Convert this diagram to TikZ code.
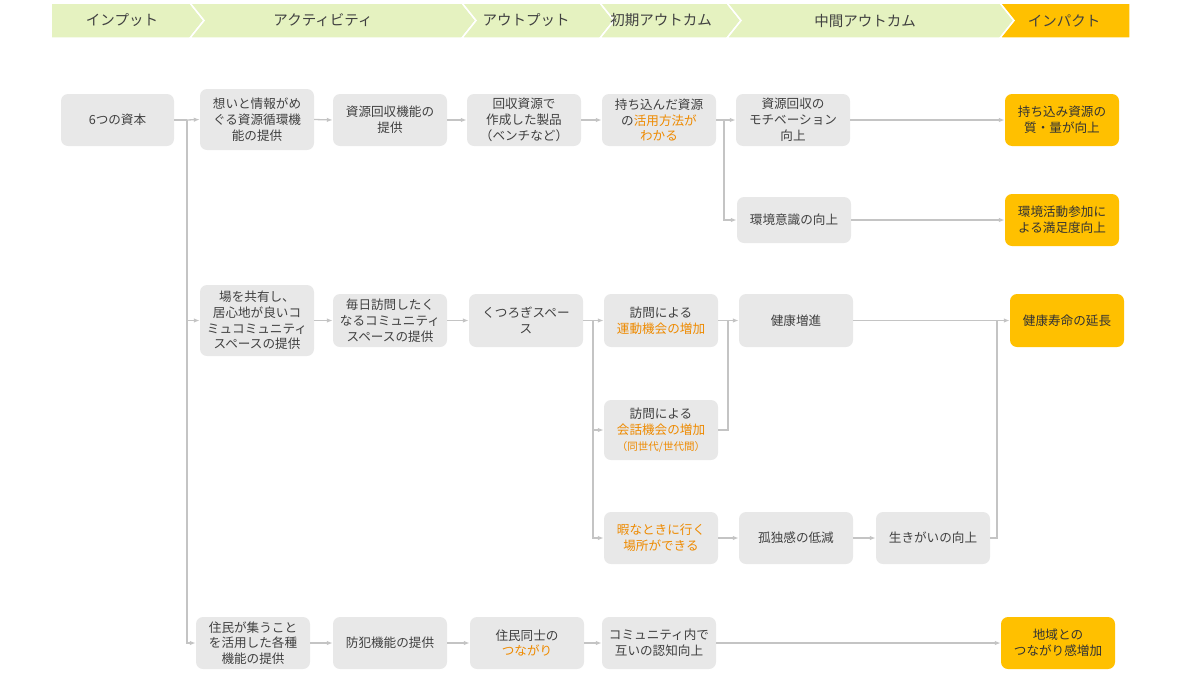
\documentclass[tikz,border=0pt]{standalone}
\usepackage{fontspec}
\setmainfont{Noto Sans CJK JP}
\usetikzlibrary{arrows.meta}
\definecolor{hdrgreen}{HTML}{E5F2C0}
\definecolor{impact}{HTML}{FFC000}
\definecolor{boxgray}{HTML}{E8E8E8}
\definecolor{txt}{HTML}{404040}
\definecolor{orn}{HTML}{EE8A00}
\definecolor{conn}{HTML}{C4C4C4}
\newcommand{\og}[1]{\textcolor{orn}{#1}}
\begin{document}
\begin{tikzpicture}[x=1pt,y=-1pt,
  box/.style={rounded corners=7pt, fill=boxgray, text=txt, align=center, minimum width=114pt, minimum height=52pt, inner sep=1pt, font=\fontsize{12.6}{15.8}\selectfont},
  imp/.style={box, fill=impact, text=black!80},
  hdr/.style={font=\fontsize{14.5}{17}\selectfont, text=txt},
  hseg/.style={fill=hdrgreen, draw=white, line width=1.5pt},
  arr/.style={draw=conn, line width=1.3pt, -{Latex[length=6pt,width=4.5pt]}},
  ln/.style={draw=conn, line width=1.3pt}]
\useasboundingbox (0,0) rectangle (1200,675);
% header
\path[hseg] (51,3) -- (190,3) -- (204,20.5) -- (190,38) -- (51,38) -- cycle;
\path[hseg] (190,3) -- (462,3) -- (476,20.5) -- (462,38) -- (190,38) -- (204,20.5) -- cycle;
\path[hseg] (462,3) -- (600,3) -- (614,20.5) -- (600,38) -- (462,38) -- (476,20.5) -- cycle;
\path[hseg] (600,3) -- (727,3) -- (741,20.5) -- (727,38) -- (600,38) -- (614,20.5) -- cycle;
\path[hseg] (727,3) -- (1000,3) -- (1014,20.5) -- (1000,38) -- (727,38) -- (741,20.5) -- cycle;
\path[hseg, fill=impact] (1000,3) -- (1130,3) -- (1130,38) -- (1000,38) -- (1014,20.5) -- cycle;
\node[hdr] (h1) at (122,20.5) {インプット};
\node[hdr] (h2) at (323,20.5) {アクティビティ};
\node[hdr] (h3) at (526,20.5) {アウトプット};
\node[hdr] (h4) at (661,20.5) {初期アウトカム};
\node[hdr] (h5) at (865,20.5) {中間アウトカム};
\node[hdr] (h6) at (1064,20.5) {インパクト};
% row 1
\node[box, minimum width=113pt] (cap) at (117.5,120) {6つの資本};
\node[box, minimum height=61pt] (a1) at (257,119.5) {想いと情報がめ\\ぐる資源循環機\\能の提供};
\node[box] (a2) at (390,120) {資源回収機能の\\提供};
\node[box] (a3) at (524,120) {回収資源で\\作成した製品\\（ベンチなど）};
\node[box] (a4) at (659,120) {持ち込んだ資源\\の\og{活用方法が}\\\og{わかる}};
\node[box] (a5) at (793,120) {資源回収の\\モチベーション\\向上};
\node[imp] (a6) at (1062,120) {持ち込み資源の\\質・量が向上};
% row 2
\node[box, minimum height=46pt] (b5) at (794,220) {環境意識の向上};
\node[imp] (b6) at (1062,220) {環境活動参加に\\よる満足度向上};
% row 3
\node[box, minimum height=71pt] (c1) at (257,320.5) {場を共有し、\\居心地が良いコ\\ミュコミュニティ\\スペースの提供};
\node[box, minimum height=53pt] (c2) at (390,320.5) {毎日訪問したく\\なるコミュニティ\\スペースの提供};
\node[box, minimum height=53pt] (c3) at (526,320.5) {くつろぎスペー\\ス};
\node[box, minimum height=53pt] (c4) at (661,320.5) {訪問による\\\og{運動機会の増加}};
\node[box, minimum height=53pt] (c5) at (796,320.5) {健康増進};
\node[imp, minimum height=53pt] (c6) at (1067,320.5) {健康寿命の延長};
% row 4
\node[box, minimum height=60pt] (k4) at (661,430) {訪問による\\\og{会話機会の増加}\\\og{\fontsize{10.5}{12.5}\selectfont （同世代/世代間）}};
% row 5
\node[box] (e4) at (661,538) {\og{暇なときに行く}\\\og{場所ができる}};
\node[box] (e5) at (796,538) {孤独感の低減};
\node[box] (e6) at (933,538) {生きがいの向上};
% row 6
\node[box] (d1) at (253,643) {住民が集うこと\\を活用した各種\\機能の提供};
\node[box] (d2) at (390,643) {防犯機能の提供};
\node[box] (d3) at (527,643) {住民同士の\\\og{つながり}};
\node[box] (d4) at (659,643) {コミュニティ内で\\互いの認知向上};
\node[imp] (d6) at (1058,643) {地域との\\つながり感増加};
% junctions
\coordinate (j1) at (187,120);
\coordinate (j2) at (724,120);
\coordinate (j3) at (593,320.5);
\coordinate (j4) at (728,320.5);
\coordinate (j5) at (997,320.5);
% connectors
\draw[ln] (cap.east) -- (j1);
\draw[arr] (j1) -- (a1.west);
\draw[arr] (j1) |- (c1.west);
\draw[arr] (j1) |- (d1.west);
\draw[arr] (a1.east) -- (a2.west);
\draw[arr] (a2.east) -- (a3.west);
\draw[arr] (a3.east) -- (a4.west);
\draw[ln] (a4.east) -- (j2);
\draw[arr] (j2) -- (a5.west);
\draw[arr] (j2) |- (b5.west);
\draw[arr] (a5.east) -- (a6.west);
\draw[arr] (b5.east) -- (b6.west);
\draw[arr] (c1.east) -- (c2.west);
\draw[arr] (c2.east) -- (c3.west);
\draw[ln] (c3.east) -- (j3);
\draw[arr] (j3) -- (c4.west);
\draw[arr] (j3) |- (k4.west);
\draw[arr] (j3) |- (e4.west);
\draw[arr] (c4.east) -- (c5.west);
\draw[ln] (k4.east) -| (j4);
\draw[arr] (c5.east) -- (c6.west);
\draw[ln] (e6.east) -| (j5);
\draw[arr] (e4.east) -- (e5.west);
\draw[arr] (e5.east) -- (e6.west);
\draw[arr] (d1.east) -- (d2.west);
\draw[arr] (d2.east) -- (d3.west);
\draw[arr] (d3.east) -- (d4.west);
\draw[arr] (d4.east) -- (d6.west);
\end{tikzpicture}
\end{document}
